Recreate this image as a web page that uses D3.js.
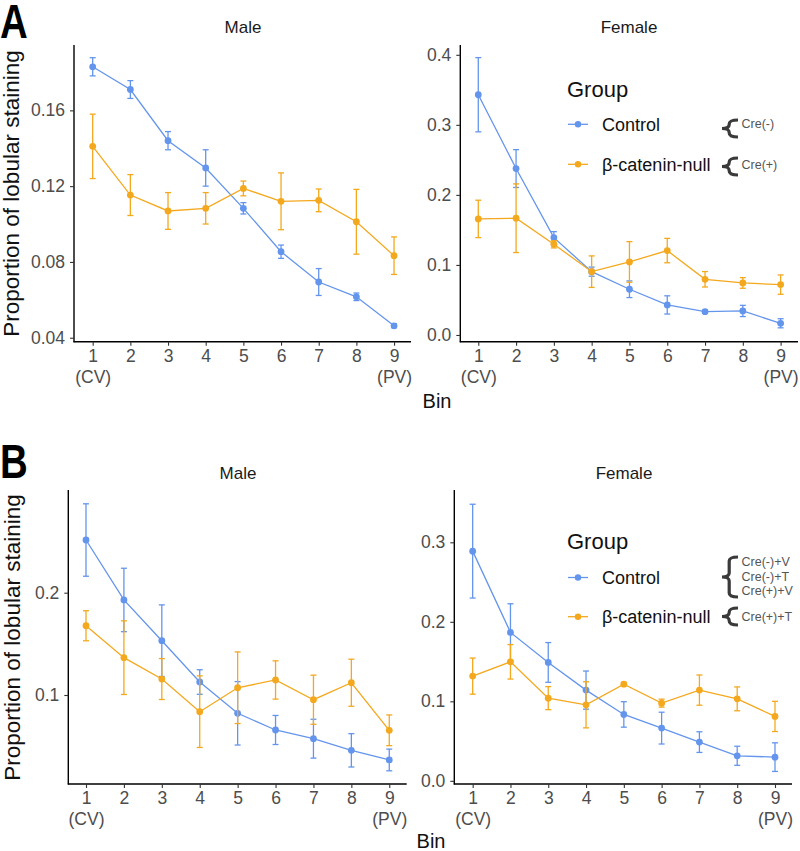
<!DOCTYPE html>
<html><head><meta charset="utf-8">
<script src="https://cdn.jsdelivr.net/npm/d3@7"></script>
<style>body{margin:0;background:#fff}svg{display:block}</style>
</head><body>
<svg id="c" width="800" height="851"></svg>
<script>
// ---- data ----
const bins = [1,2,3,4,5,6,7,8,9];
const binLabels = ["1","2","3","4","5","6","7","8","9"];
const binSub = {1:"(CV)", 9:"(PV)"};
const groups = ["Control","β-catenin-null"];

const aMaleCtrl    = [0.183,0.171,0.144,0.1296,0.1083,0.0854,0.0694,0.0616,0.0463];
const aMaleCtrlErr = [0.0048,0.0047,0.0048,0.0096,0.003,0.0035,0.0071,0.002,0.001];
const aMaleNull    = [0.141,0.1153,0.1069,0.1083,0.1188,0.112,0.1125,0.1012,0.0833];
const aMaleNullErr = [0.017,0.0108,0.0097,0.0083,0.0039,0.015,0.006,0.0171,0.0099];

const aFemCtrl     = [0.343,0.2376,0.139,0.0904,0.0653,0.0429,0.0333,0.0343,0.0167];
const aFemCtrlErr  = [0.053,0.027,0.0085,0.0065,0.0119,0.013,0.002,0.008,0.0065];
const aFemNull     = [0.1657,0.1667,0.1295,0.0904,0.1043,0.1205,0.0795,0.0743,0.0719];
const aFemNullErr  = [0.0267,0.049,0.0052,0.0225,0.029,0.0174,0.011,0.0076,0.0138];

const bMaleCtrl    = [0.2515,0.1929,0.1531,0.1127,0.0821,0.0658,0.0573,0.0459,0.0365];
const bMaleCtrlErr = [0.0354,0.031,0.035,0.012,0.031,0.0142,0.019,0.0163,0.0106];
const bMaleNull    = [0.1677,0.1365,0.1156,0.0837,0.1071,0.1147,0.0954,0.112,0.0655];
const bMaleNullErr = [0.0147,0.036,0.02,0.035,0.035,0.0187,0.024,0.023,0.015];

const bFemCtrl     = [0.2889,0.1867,0.1489,0.1141,0.0835,0.0663,0.0487,0.0315,0.0298];
const bFemCtrlErr  = [0.059,0.036,0.025,0.024,0.016,0.02,0.013,0.012,0.018];
const bFemNull     = [0.1317,0.1497,0.104,0.0956,0.1216,0.0977,0.1141,0.1031,0.081];
const bFemNullErr  = [0.0227,0.0217,0.0145,0.029,0.002,0.005,0.019,0.015,0.019];

const aMaleTicks = [0.04,0.08,0.12,0.16];
const aFemTicks  = [0.0,0.1,0.2,0.3,0.4];
const bMaleTicks = [0.1,0.2];
const bFemTicks  = [0.0,0.1,0.2,0.3];

const legendA = [["Cre(-)"],["Cre(+)"]];
const legendB = [["Cre(-)+V","Cre(-)+T","Cre(+)+V"],["Cre(+)+T"]];

// ---- styling ----
const colors = {"Control":"#6495ED","β-catenin-null":"#F4A81D"};
const FONT = "'Liberation Sans', Arial, Helvetica, sans-serif";
const svg = d3.select("#c").style("font-family", FONT);

function panel(cfg){
  const g = svg.append("g");
  const x = d3.scaleLinear().domain(cfg.xDom).range([cfg.left, cfg.right]);
  const y = d3.scaleLinear().domain(cfg.yDom).range([cfg.bottom, cfg.top]);

  g.append("text").attr("x", cfg.titleX).attr("y", cfg.titleY)
    .attr("text-anchor","middle").attr("font-size",17).attr("fill","#1a1a1a").text(cfg.title);

  const ya = g.append("g").attr("transform",`translate(${cfg.left},0)`)
    .call(d3.axisLeft(y).tickValues(cfg.yTicks).tickFormat(cfg.yFmt).tickSize(4).tickPadding(5));
  ya.select(".domain").attr("stroke","#000").attr("stroke-width",1.4).attr("d",`M0,${cfg.top}V${cfg.bottom+0.5}`);
  ya.selectAll(".tick line").attr("stroke","#333").attr("stroke-width",1.1);
  ya.selectAll(".tick text").attr("font-size",17.5).attr("fill","#4d4d4d").attr("font-family",FONT);

  const xa = g.append("g").attr("transform",`translate(0,${cfg.bottom})`)
    .call(d3.axisBottom(x).tickValues(bins).tickFormat((d,i)=>binLabels[i]).tickSize(4).tickPadding(4));
  xa.select(".domain").attr("stroke","#000").attr("stroke-width",1.4).attr("d",`M${cfg.left-0.5},0H${cfg.right}`);
  xa.selectAll(".tick line").attr("stroke","#333").attr("stroke-width",1.1);
  xa.selectAll(".tick text").attr("font-size",17.5).attr("fill","#4d4d4d").attr("font-family",FONT)
    .each(function(d){
      if(binSub[d]){
        d3.select(this).append("tspan").attr("x",0).attr("dy","1.2em").text(binSub[d]);
      }
    });

  cfg.series.forEach(s=>{
    const col = colors[s.name];
    const pts = bins.map((b,i)=>({b, v:s.vals[i], e:s.errs[i]}));
    const eg = g.append("g").attr("stroke",col).attr("stroke-width",1.3).attr("fill","none");
    pts.forEach(p=>{
      const xx = x(p.b), y1 = y(p.v+p.e), y2 = y(p.v-p.e);
      eg.append("line").attr("x1",xx).attr("x2",xx).attr("y1",y1).attr("y2",y2);
      eg.append("line").attr("x1",xx-3).attr("x2",xx+3).attr("y1",y1).attr("y2",y1);
      eg.append("line").attr("x1",xx-3).attr("x2",xx+3).attr("y1",y2).attr("y2",y2);
    });
    g.append("path").datum(pts).attr("fill","none").attr("stroke",col).attr("stroke-width",1.3)
      .attr("d", d3.line().x(p=>x(p.b)).y(p=>y(p.v)));
    g.selectAll(null).data(pts).enter().append("circle")
      .attr("cx",p=>x(p.b)).attr("cy",p=>y(p.v)).attr("r",3.4).attr("fill",col);
  });
}

function brace(g, xt, xr, yTop, yBot){
  const mid = (yTop+yBot)/2;
  const xb = xt + (xr-xt)*0.45;
  const r = Math.min(4,(yBot-yTop)/4);
  g.append("path").attr("fill","none").attr("stroke","#3a3a3a").attr("stroke-width",3.2)
    .attr("d",`M${xr},${yTop} Q${xb},${yTop} ${xb},${yTop+r} L${xb},${mid-r} Q${xb},${mid} ${xt},${mid} Q${xb},${mid} ${xb},${mid+r} L${xb},${yBot-r} Q${xb},${yBot} ${xr},${yBot}`);
}

function legend(cfg){
  const g = svg.append("g");
  g.append("text").attr("x",cfg.x).attr("y",cfg.titleY).attr("font-size",22).attr("fill","#111").text("Group");
  groups.forEach((name,i)=>{
    const ky = cfg.keyY[i];
    g.append("line").attr("x1",cfg.x+1).attr("x2",cfg.x+21).attr("y1",ky).attr("y2",ky)
      .attr("stroke",colors[name]).attr("stroke-width",1.3);
    g.append("circle").attr("cx",cfg.x+11).attr("cy",ky).attr("r",3.2).attr("fill",colors[name]);
    g.append("text").attr("x",cfg.x+35).attr("y",ky+6.5).attr("font-size",18).attr("fill","#111").text(name);
    const labs = cfg.notes[i];
    const b = cfg.braces[i];
    brace(g, 722, 738, b[0], b[1]);
    labs.forEach((t,j)=>{
      g.append("text").attr("x",741.5).attr("y",cfg.noteY[i]+j*14.7).attr("font-size",12.5)
        .attr("fill","#555").text(t);
    });
  });
}

panel({title:"Male",titleX:243,titleY:33,left:74,right:411,top:45,bottom:341.7,
  xDom:[0.504,9.45],yDom:[0.0379,0.1945],yTicks:aMaleTicks,yFmt:d3.format(".2f"),
  series:[{name:"Control",vals:aMaleCtrl,errs:aMaleCtrlErr},{name:"β-catenin-null",vals:aMaleNull,errs:aMaleNullErr}]});
panel({title:"Female",titleX:629,titleY:33,left:460.3,right:798,top:45,bottom:341.7,
  xDom:[0.524,9.46],yDom:[-0.0096,0.414],yTicks:aFemTicks,yFmt:d3.format(".1f"),
  series:[{name:"Control",vals:aFemCtrl,errs:aFemCtrlErr},{name:"β-catenin-null",vals:aFemNull,errs:aFemNullErr}]});
panel({title:"Male",titleX:238,titleY:479,left:68.3,right:406.7,top:490,bottom:784,
  xDom:[0.533,9.46],yDom:[0.013,0.3004],yTicks:bMaleTicks,yFmt:d3.format(".1f"),
  series:[{name:"Control",vals:bMaleCtrl,errs:bMaleCtrlErr},{name:"β-catenin-null",vals:bMaleNull,errs:bMaleNullErr}]});
panel({title:"Female",titleX:624,titleY:479,left:454.3,right:792,top:490,bottom:784,
  xDom:[0.514,9.45],yDom:[-0.004,0.3658],yTicks:bFemTicks,yFmt:d3.format(".1f"),
  series:[{name:"Control",vals:bFemCtrl,errs:bFemCtrlErr},{name:"β-catenin-null",vals:bFemNull,errs:bFemNullErr}]});

[[18.5,193.5],[20,637.5]].forEach(([xx,yy])=>{
  svg.append("text").attr("transform",`translate(${xx},${yy}) rotate(-90)`).attr("text-anchor","middle")
    .attr("font-size",22.5).attr("fill","#111").text("Proportion of lobular staining");
});
svg.append("text").attr("x",437).attr("y",408).attr("text-anchor","middle").attr("font-size",20).attr("fill","#111").text("Bin");
svg.append("text").attr("x",431).attr("y",848).attr("text-anchor","middle").attr("font-size",20).attr("fill","#111").text("Bin");

// panel letters (narrowed bold)
[["A",38],["B",478]].forEach(([t,yy])=>{
  svg.append("text").attr("transform",`translate(0,${yy}) scale(0.8,1)`).attr("x",0).attr("y",0)
    .attr("font-size",48).attr("font-weight","bold").attr("fill","#000").text(t);
});

legend({x:567,titleY:97,keyY:[124.3,164.3],notes:legendA,noteY:[127.5,168.5],braces:[[120,137],[158,175]]});
legend({x:567,titleY:549,keyY:[577.5,616.7],notes:legendB,noteY:[566,620.5],braces:[[557,597],[608,625]]});
</script>
</body></html>
